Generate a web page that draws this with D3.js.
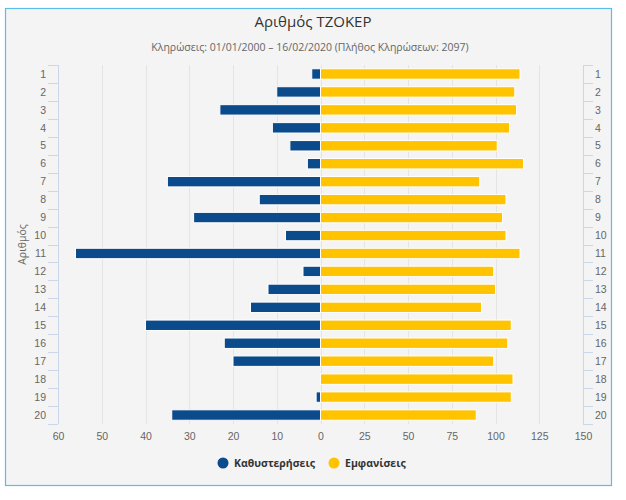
<!DOCTYPE html>
<html>
<head>
<meta charset="utf-8">
<script src="https://cdn.jsdelivr.net/npm/d3@7/dist/d3.min.js"></script>
<style>
  html, body { margin: 0; padding: 0; background: #ffffff; }
  svg { display: block; font-family: "Open Sans", "Noto Sans", sans-serif; }
</style>
</head>
<body>
<svg id="chart" width="626" height="500"></svg>
<script>
const categories = ["1","2","3","4","5","6","7","8","9","10","11","12","13","14","15","16","17","18","19","20"];
const delays = [2, 10, 23, 11, 7, 3, 35, 14, 29, 8, 56, 4, 12, 16, 40, 22, 20, 0, 1, 34];
const appearances = [114, 111, 112, 108, 101, 116, 91, 106, 104, 106, 114, 99, 100, 92, 109, 107, 99, 110, 109, 89];
const leftTicks = [60, 50, 40, 30, 20, 10, 0];
const rightTicks = [0, 25, 50, 75, 100, 125, 150];
const seriesNames = ["Καθυστερήσεις", "Εμφανίσεις"];
const titleText = "Αριθμός ΤΖΟΚΕΡ";
const subtitleText = "Κληρώσεις: 01/01/2000 – 16/02/2020 (Πλήθος Κληρώσεων: 2097)";
const axisTitle = "Αριθμός";

const colors = ["#0b4a8b", "#ffc300"];
const svg = d3.select("#chart");

// frame
svg.append("rect").attr("x", 5.5).attr("y", 8.5).attr("width", 606).attr("height", 477)
  .attr("fill", "#f4f4f4").attr("stroke", "#5bbde8").attr("stroke-width", 1.2);

const pLeft = 58, pMid = 320.5, pRight = 583, pTop = 65, pBottom = 424;
const xL = d3.scaleLinear().domain([60, 0]).range([pLeft, pMid]);
const xR = d3.scaleLinear().domain([0, 150]).range([pMid, pRight]);
const y = d3.scaleBand().domain(categories).range([pTop, pBottom]).paddingInner(0.42).paddingOuter(0.21);

// grid
const grid = svg.append("g");
leftTicks.forEach(t => grid.append("line").attr("x1", Math.round(xL(t)) + 0.5).attr("x2", Math.round(xL(t)) + 0.5)
  .attr("y1", pTop).attr("y2", pBottom).attr("stroke", "#e4e4e4"));
rightTicks.slice(1).forEach(t => grid.append("line").attr("x1", Math.round(xR(t)) + 0.5).attr("x2", Math.round(xR(t)) + 0.5)
  .attr("y1", pTop).attr("y2", pBottom).attr("stroke", "#e4e4e4"));

// axis lines and boundary ticks
const axisColor = "#ccd6eb";
svg.append("line").attr("x1", pLeft + 0.5).attr("x2", pLeft + 0.5).attr("y1", pTop).attr("y2", pBottom).attr("stroke", axisColor);
svg.append("line").attr("x1", pRight + 0.5).attr("x2", pRight + 0.5).attr("y1", pTop).attr("y2", pBottom).attr("stroke", axisColor);
const bounds = d3.range(categories.length + 1).map(i => pTop + i * (pBottom - pTop) / categories.length);
bounds.forEach(b => {
  svg.append("line").attr("x1", pLeft - 10).attr("x2", pLeft).attr("y1", Math.round(b) + 0.5).attr("y2", Math.round(b) + 0.5).attr("stroke", axisColor);
  svg.append("line").attr("x1", pRight).attr("x2", pRight + 10).attr("y1", Math.round(b) + 0.5).attr("y2", Math.round(b) + 0.5).attr("stroke", axisColor);
});

// category labels via axes
const yAxisL = d3.axisLeft(y).tickSize(0).tickPadding(12);
const gL = svg.append("g").attr("transform", `translate(${pLeft},0)`).call(yAxisL);
const yAxisR = d3.axisRight(y).tickSize(0).tickPadding(12);
const gR = svg.append("g").attr("transform", `translate(${pRight},0)`).call(yAxisR);
[gL, gR].forEach(g => {
  g.select(".domain").remove();
  g.selectAll("text").attr("fill", "#666").style("font-size", "10.5px").attr("dy", "0.35em");
});

// bottom axes
const xAxisL = d3.axisBottom(xL).tickValues(leftTicks.slice(0, -1)).tickSize(0).tickPadding(9);
const xAxisR = d3.axisBottom(xR).tickValues(rightTicks).tickSize(0).tickPadding(9);
const gbL = svg.append("g").attr("transform", `translate(0,${pBottom})`).call(xAxisL);
const gbR = svg.append("g").attr("transform", `translate(0,${pBottom})`).call(xAxisR);
[gbL, gbR].forEach(g => {
  g.select(".domain").remove();
  g.selectAll("text").attr("fill", "#666").style("font-size", "10.5px");
});

// bars
const bars = svg.append("g");
bars.selectAll("rect.d").data(categories).enter().append("rect")
  .attr("x", (c, i) => xL(delays[i]))
  .attr("width", (c, i) => pMid - xL(delays[i]))
  .attr("y", c => y(c)).attr("height", y.bandwidth())
  .attr("fill", colors[0]).attr("stroke", "#ffffff").attr("stroke-width", 1)
  .style("display", (c, i) => delays[i] > 0 ? null : "none");
bars.selectAll("rect.a").data(categories).enter().append("rect")
  .attr("x", pMid)
  .attr("width", (c, i) => xR(appearances[i]) - pMid)
  .attr("y", c => y(c)).attr("height", y.bandwidth())
  .attr("fill", colors[1]).attr("stroke", "#ffffff").attr("stroke-width", 1);

// titles
svg.append("text").attr("x", 313).attr("y", 27).attr("text-anchor", "middle")
  .attr("fill", "#333").style("font-size", "15px").text(titleText);
svg.append("text").attr("x", 310).attr("y", 51).attr("text-anchor", "middle")
  .attr("fill", "#666").style("font-size", "10.5px").text(subtitleText);
svg.append("text").attr("transform", `translate(26,${(pTop + pBottom) / 2}) rotate(-90)`).attr("text-anchor", "middle")
  .attr("fill", "#666").style("font-size", "10.5px").text(axisTitle);

// legend
const legend = svg.append("g");
const lx = [223, 334];
seriesNames.forEach((n, i) => {
  legend.append("circle").attr("cx", lx[i]).attr("cy", 463).attr("r", 5.5).attr("fill", colors[i]);
  legend.append("text").attr("x", lx[i] + 11).attr("y", 467).attr("fill", "#333")
    .style("font-size", "10.5px").style("font-weight", "bold").text(n);
});
</script>
</body>
</html>
